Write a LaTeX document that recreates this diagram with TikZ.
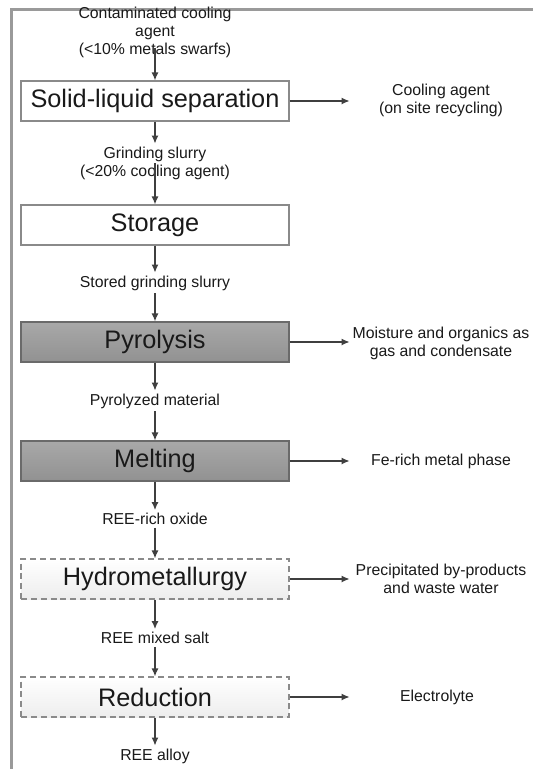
\documentclass[tikz,border=0pt]{standalone}
\usepackage{fontspec}
\setmainfont{Liberation Sans}
\usetikzlibrary{arrows.meta}
\definecolor{framegray}{HTML}{9A9A9A}
\definecolor{linegray}{HTML}{3F3F3F}
\definecolor{boxline}{HTML}{8A8A8A}
\definecolor{darkline}{HTML}{6A6A6A}
\begin{document}
\begin{tikzpicture}[x=0.02cm,y=-0.02cm]
\tikzstyle{every node} = [inner sep=1.5pt, text=black!90, align=center, font=\fontsize{9}{10.2}\selectfont]
\tikzstyle{process} = [draw=boxline, line width=0.6pt, inner sep=0pt, minimum width=5.36cm, minimum height=0.8cm, font=\fontsize{14.4}{17}\selectfont]
\tikzstyle{heated} = [process, draw=darkline, top color=gray!68, bottom color=gray!86]
\tikzstyle{planned} = [process, dash pattern=on 3.4pt off 2.2pt, top color=white, bottom color=black!7]
\tikzstyle{flow} = [draw=linegray, line width=0.85pt, -{Latex[length=4.6pt,width=4pt]}]
\useasboundingbox (0,0) rectangle (533,769);
\draw[framegray, line width=1.7pt] (533,9.5) -- (11.5,9.5) -- (11.5,769);
\path (155,32) node (feed) {Contaminated cooling\\agent\\(<10\% metals swarfs)}
		(155,101) node [process] (sep) {Solid-liquid separation}
		(441,100) node (recycle) {Cooling agent\\(on site recycling)}
		(155,163) node (slurry) {Grinding slurry\\(<20\% cooling agent)}
		(155,225) node [process] (store) {Storage}
		(155,283) node (stored) {Stored grinding slurry}
		(155,342) node [heated] (pyro) {Pyrolysis}
		(441,343) node (gas) {Moisture and organics as\\gas and condensate}
		(155,401) node (pyrolyzed) {Pyrolyzed material}
		(155,461) node [heated] (melt) {Melting}
		(441,461) node (metal) {Fe-rich metal phase}
		(155,519) node (oxide) {REE-rich oxide}
		(155,579) node [planned] (hydro) {Hydrometallurgy}
		(441,579) node (waste) {Precipitated by-products\\and waste water}
		(155,638) node (salt) {REE mixed salt}
		(155,697) node [planned] (red) {Reduction}
		(437,697) node (electro) {Electrolyte}
		(155,756) node (alloy) {REE alloy};

	% main line
	\draw[flow] ([yshift=-9pt]node cs:name=feed, anchor=center) -- (node cs:name=sep);
	\draw[flow] (node cs:name=sep) -- (node cs:name=slurry);
	\draw[flow] (node cs:name=slurry, anchor=center) -- (node cs:name=store);
	\draw[flow] (node cs:name=store) -- (node cs:name=stored);
	\draw[flow] (node cs:name=stored) -- (node cs:name=pyro);
	\draw[flow] (node cs:name=pyro) -- (node cs:name=pyrolyzed);
	\draw[flow] (node cs:name=pyrolyzed) -- (node cs:name=melt);
	\draw[flow] (node cs:name=melt) -- (node cs:name=oxide);
	\draw[flow] (node cs:name=oxide) -- (node cs:name=hydro);
	\draw[flow] (node cs:name=hydro) -- (node cs:name=salt);
	\draw[flow] (node cs:name=salt) -- (node cs:name=red);
	\draw[flow] (node cs:name=red) -- (node cs:name=alloy);
	% side streams
	\draw[flow] (sep.east) -- (sep.east -| gas.west);
	\draw[flow] (pyro.east) -- (pyro.east -| gas.west);
	\draw[flow] (melt.east) -- (melt.east -| gas.west);
	\draw[flow] (hydro.east) -- (hydro.east -| gas.west);
	\draw[flow] (red.east) -- (red.east -| gas.west);
\end{tikzpicture}
\end{document}
